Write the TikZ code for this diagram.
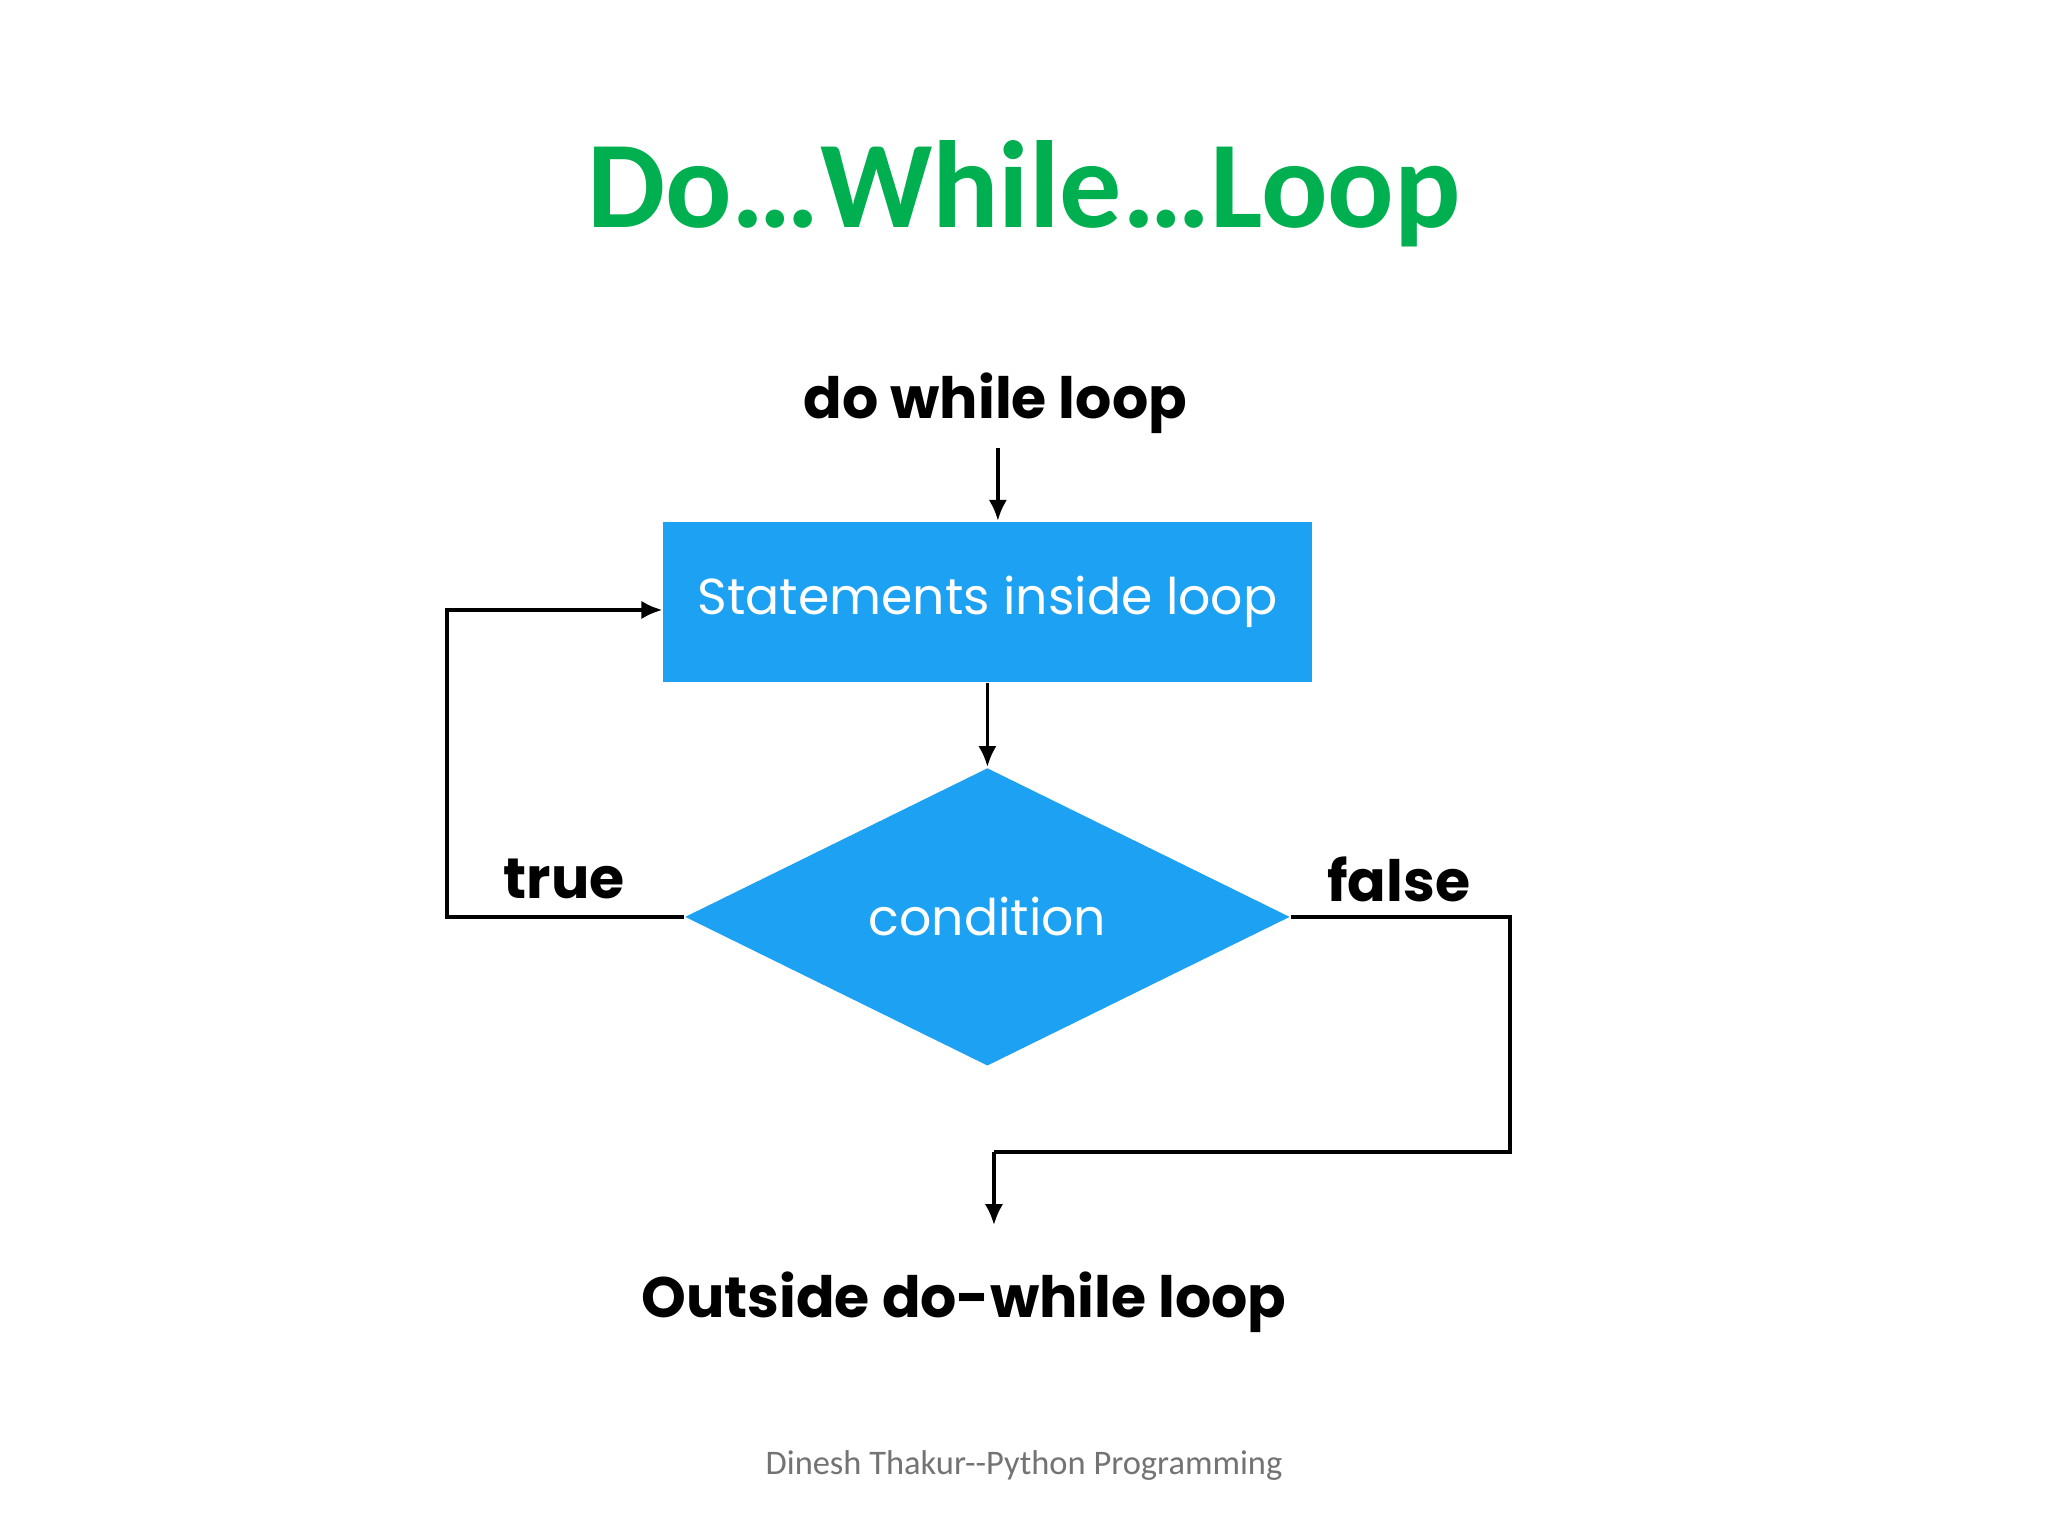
\documentclass[tikz,border=0pt]{standalone}
\usepackage{fontspec}
\setmainfont{Poppins}
\newfontfamily\titlefont{Carlito}
\usetikzlibrary{shapes.geometric,arrows.meta,positioning}
\definecolor{boxblue}{RGB}{29,161,242}
\definecolor{titlegreen}{RGB}{0,176,80}

\begin{document}
\begin{tikzpicture}[x=0.01cm,y=-0.01cm,
	flow/.style={line width=0.8pt,-{Latex[length=1.6mm,width=1.4mm]}},
	plain/.style={line width=0.8pt},
	lbl/.style={font=\bfseries\fontsize{12.4}{15}\selectfont}]

	\useasboundingbox[fill=white] (0,0) rectangle (1568,1176);

	\node[font=\titlefont\bfseries\fontsize{27}{32}\selectfont, text=titlegreen] (title) at (784,148) {Do…While…Loop};

	\node[lbl] (start) at (762,309) {do while loop};
	\node[fill=boxblue, text=white, minimum width=4.96cm, minimum height=1.23cm, inner sep=0pt,
		font=\fontsize{11}{13}\selectfont] (stmts) at (756,461) {Statements inside loop};
	\node[diamond, fill=boxblue, text=white, minimum width=4.63cm, minimum height=2.28cm, inner sep=0pt,
		font=\fontsize{11}{13}\selectfont] (cond) at (756,702) {condition};
	\node[lbl] (true) at (432,673) {true};
	\node[lbl] (false) at (1071,673) {false};
	\node[lbl] (outside) at (738,997) {Outside do-while loop};

	\coordinate (a1) at (764,343);
	\coordinate (t1) at (342,702);
	\coordinate (t2) at (342,467);
	\coordinate (f1) at (1156,702);
	\coordinate (f2) at (1156,882);
	\coordinate (f3) at (761,882);
	\coordinate (f4) at (761,938);

	\draw[flow] (a1) -- (a1 |- stmts.north);
	\draw[flow] (stmts.south) -- (cond.north);
	\draw[flow] (cond.west) -- (t1) -- (t2) -- (t2 -| stmts.west);
	\draw[plain] (cond.east) -- (f1) -- (f2) -- (f3);
	\draw[flow] (f3) -- (f4);

	\node[font=\titlefont\fontsize{7.5}{9}\selectfont, text=black!55] (footer) at (784,1122) {Dinesh Thakur--Python Programming};

\end{tikzpicture}
\end{document}
